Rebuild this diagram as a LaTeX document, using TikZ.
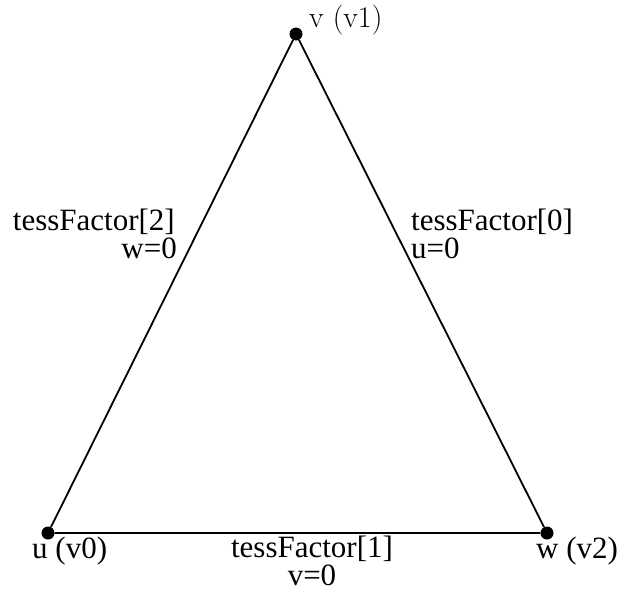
\documentclass[tikz,border=0pt]{standalone}
\usepackage{fontspec}
\setmainfont{Liberation Serif}
\newfontfamily\lmfont{Latin Modern Roman}
\begin{document}
\begin{tikzpicture}[x=1pt,y=-1pt,
  dot/.style={circle,fill=black,inner sep=0pt,minimum size=13pt},
  lbl/.style={font=\fontsize{31}{33}\selectfont,inner sep=0pt},
  edge/.style={line width=1.8pt}]
\useasboundingbox[fill=white] (0,0) rectangle (621,592);
\node[dot] (v) at (296,34) {};
\node[dot] (u) at (48,533) {};
\node[dot] (w) at (547,533) {};
\draw[edge] (u) -- (v) -- (w) -- (u);
\node[lbl,anchor=base west,font=\lmfont\fontsize{30}{33}\selectfont] (vl) at (309,27) {v (v1)};
\node[lbl,anchor=base east] (l2a) at (175,230) {tessFactor[2]};
\node[lbl,anchor=base east] (l2b) at (177,258) {w=0};
\node[lbl,anchor=base west] (l0a) at (411,230) {tessFactor[0]};
\node[lbl,anchor=base west] (l0b) at (411,258) {u=0};
\node[lbl,anchor=base west] (ul) at (32,558) {u (v0)};
\node[lbl,anchor=base] (l1a) at (312,557) {tessFactor[1]};
\node[lbl,anchor=base,text depth=0pt] (l1b) at (312,585) {v=0};
\node[lbl,anchor=base west] (wl) at (536,558) {w (v2)};
\end{tikzpicture}
\end{document}
